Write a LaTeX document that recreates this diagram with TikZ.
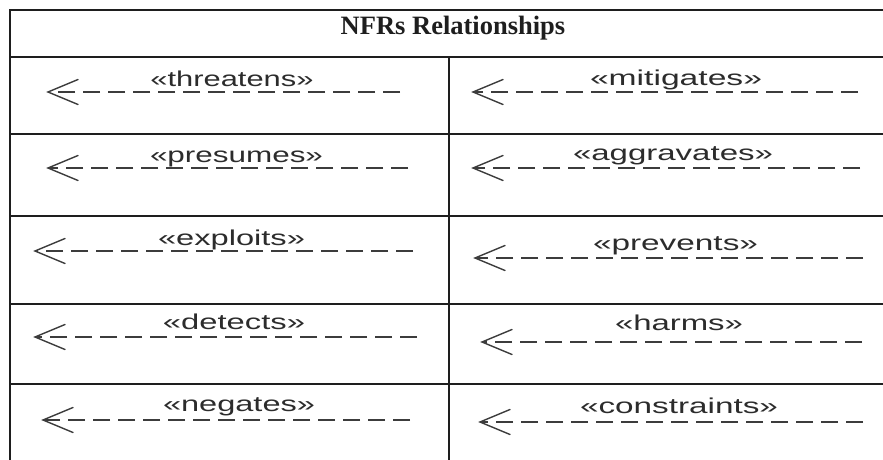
\documentclass[tikz,border=0pt]{standalone}
\usepackage{graphicx}
\usepackage{fontspec}
\setmainfont{Liberation Serif}
\newfontfamily\labelfont{Liberation Sans}
\definecolor{rule}{HTML}{1E1E1E}
\definecolor{ink}{HTML}{2C2C2C}
\definecolor{dashink}{HTML}{3C3C3C}
\begin{document}
\begin{tikzpicture}[x=1pt,y=-1pt,
  tableline/.style={draw=rule,line width=2.3pt},
  stereo/.style={anchor=base,inner sep=0pt,text=ink,
    font=\labelfont\fontsize{21.5}{24}\selectfont},
  dep/.style={draw=dashink,line width=1.9pt,dash pattern=on 17pt off 8pt},
  headtip/.style={draw=dashink,line width=1.4pt,line cap=round,line join=miter}]
\useasboundingbox (0,0) rectangle (883,460);
\clip (0,0) rectangle (883,460);

% table frame and grid
\draw[tableline] (10,490) -- (10,10) -- (900,10);
\foreach \y in {57,134,216,304,384}
  \draw[tableline] (10,\y) -- (900,\y);
\draw[tableline] (449,57) -- (449,490);

% title
\node[anchor=base,inner sep=0pt,font=\bfseries\fontsize{26.5}{30}\selectfont,text=rule]
  (title) at (453,35) {NFRs Relationships};

% one dependency: name, tip x, line y, end of dashes, label centre x,
% label baseline, label width, text
\newcommand\depline[8]{%
  \coordinate (#1tip) at (#2,#3);
  \coordinate (#1end) at (#4,#3);
  \draw[headtip] ([shift={(30,-12.5)}]#1tip) -- (#1tip) -- ([shift={(30,12.5)}]#1tip);
  \draw[dep] (#1end) -- (#1tip);
  \node[stereo] (#1lbl) at (#5,#6) {\resizebox{#7pt}{\height}{#8}};
}

% left column
\depline{thr}{48}{92}{400}{232}{86}{163}{«threatens»}
\depline{pre}{48}{168}{408}{236.5}{162}{173}{«presumes»}
\depline{exp}{35}{251}{413}{231.5}{245}{147}{«exploits»}
\depline{det}{35}{337}{417}{234}{329}{142}{«detects»}
\depline{neg}{43}{420}{410}{239}{411}{152}{«negates»}

% right column
\depline{mit}{473}{92}{858}{676}{85}{172}{«mitigates»}
\depline{agg}{473}{168}{860}{673}{160}{200}{«aggravates»}
\depline{prv}{475}{258}{863}{675.5}{250}{165}{«prevents»}
\depline{hrm}{482}{342}{862}{679}{330}{128}{«harms»}
\depline{con}{480}{422}{863}{679}{413}{198}{«constraints»}
\end{tikzpicture}
\end{document}
